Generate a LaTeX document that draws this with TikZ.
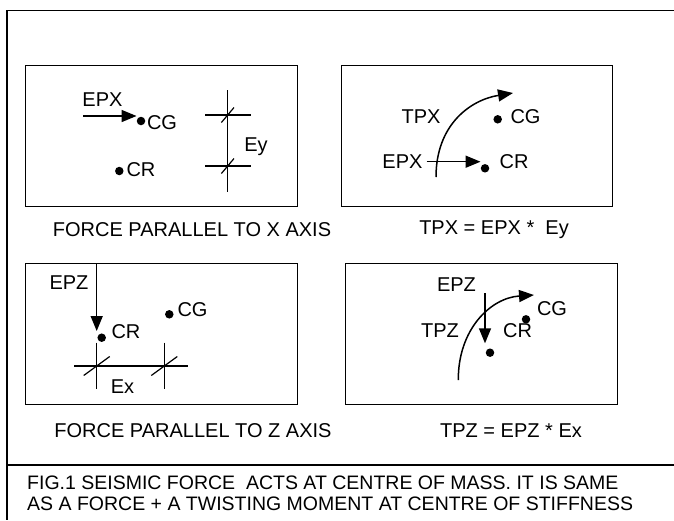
\documentclass[tikz,border=0pt]{standalone}
\usepackage{fontspec}
\setmainfont{Liberation Sans}
\usetikzlibrary{positioning,arrows.meta,calc}

\begin{document}
\begin{tikzpicture}[
    x=1pt, y=-1pt,
    font=\fontsize{20}{21}\selectfont,
    frame/.style={line width=1.5pt},
    panel/.style={
        draw,
        line width=1.3pt,
        inner sep=0pt,
        anchor=north west,
        minimum height=141pt
    },
    dot/.style={circle, fill, inner sep=0pt, minimum size=8.5pt},
    lbl/.style={inner sep=0pt},
    force/.style={-{Triangle[length=15pt,width=12pt]}, line width=1.5pt},
    dim/.style={line width=1.5pt},
    slash/.style={line width=1.2pt}
]
\useasboundingbox (0,0) rectangle (674,520);

% ============================================================
% FRAME
% ============================================================
\draw[frame] (674,10.7) -| (7,520);
\draw[frame] (7,465) -- (674,465);

% ============================================================
% PANELS
% ============================================================
\node[panel, minimum width=272pt] (px)  at ( 25, 65) {};
\node[panel, minimum width=271pt] (tx)  at (341, 65) {};
\node[panel, minimum width=272pt] (pz)  at ( 24.5,263) {};
\node[panel, minimum width=272pt] (tz)  at (345,263) {};

% force parallel to x
\node[dot] (cg1)  at (141,121) {};
\node[lbl] (cg1t) at (162,123) {CG};
\node[dot] (cr1)  at (119.3,171) {};
\node[lbl] (cr1t) at (141,170) {CR};
\node[lbl] (epx1) at (102.5,100) {EPX};
\coordinate (epx1s) at (83,116);
\draw[force] (epx1s) -- (epx1s -| cg1.west);

\coordinate (ey1) at (227.7,115);
\coordinate (ey2) at (227.7,166);
\draw[dim] ($(ey1)+(0,-25)$) -- ($(ey2)+(0,25.7)$);
\draw[dim] ($(ey1)+(-22.7,0)$) -- ($(ey1)+(23,0)$);
\draw[dim] ($(ey2)+(-22.7,0)$) -- ($(ey2)+(23,0)$);
\draw[slash] ($(ey1)+(-6.3,7.5)$) -- ($(ey1)+(6.3,-7.5)$);
\draw[slash] ($(ey2)+(-6.3,7.5)$) -- ($(ey2)+(6.3,-7.5)$);
\node[lbl] (eyt) at (256,147) {Ey};

% twisting moment tpx
\node[lbl] (tpx)  at (421,116.7) {TPX};
\coordinate (tpxs) at (436,177);
\coordinate (tpxe) at (513,93);
\draw[force] (tpxs) .. controls (436,125) and (470,100) .. (tpxe);
\node[dot] (cg2)  at (497.7,119.3) {};
\node[lbl] (cg2t) at (525.5,117) {CG};
\node[lbl] (epx2) at (402.5,161.7) {EPX};
\node[dot] (cr2)  at (485,168.3) {};
\node[lbl] (cr2t) at (514,161.7) {CR};
\coordinate (epx2s) at (426.7,161.7);
\draw[force] (epx2s) -- (epx2s -| cr2.west);

% force parallel to z
\node[lbl] (epz3) at (69,283) {EPZ};
\node[dot] (cr3)  at (101.7,337.7) {};
\node[lbl] (cr3t) at (126,331.7) {CR};
\node[dot] (cg3)  at (169.3,314.3) {};
\node[lbl] (cg3t) at (192.5,309.3) {CG};
\coordinate (epz3s) at (96.7,264);
\draw[force] (epz3s) -- (96.7,331);

\coordinate (ex1) at (96.7,366);
\coordinate (ex2) at (164.3,366);
\draw[dim] ($(ex1)+(0,-23.3)$) -- ($(ex1)+(0,23.3)$);
\draw[dim] ($(ex2)+(0,-23.3)$) -- ($(ex2)+(0,23.3)$);
\draw[dim] ($(ex1)+(-22.7,0)$) -- ($(ex2)+(23.4,0)$);
\draw[slash] ($(ex1)+(-13,9.5)$) -- ($(ex1)+(13,-9.5)$);
\draw[slash] ($(ex2)+(-13,9.5)$) -- ($(ex2)+(13,-9.5)$);
\node[lbl] (ext) at (122.5,386.7) {Ex};

% twisting moment tpz
\node[lbl] (epz4) at (456.5,285) {EPZ};
\node[lbl] (tpz)  at (440,331) {TPZ};
\coordinate (tpzs) at (458.3,380);
\coordinate (tpze) at (534,295);
\draw[force] (tpzs) .. controls (458,330) and (490,298) .. (tpze);
\coordinate (epz4s) at (485,293.3);
\coordinate (epz4e) at (485,343.3);
\draw[force] (epz4s) -- (epz4e);
\node[dot] (cr4)  at (490,352.7) {};
\node[dot] (cg4)  at (526,319.3) {};
\node[lbl] (cg4t) at (552,308.3) {CG};
\node[lbl] (cr4t) at (517.5,331) {CR};

% ============================================================
% CAPTIONS
% ============================================================
\node[lbl] (capx) at (192,230) {FORCE PARALLEL TO X AXIS};
\node[lbl] (eqx)  at (494,230) {TPX = EPX *~~Ey};
\node[lbl] (capz) at (193,431) {FORCE PARALLEL TO Z AXIS};
\node[lbl] (eqz)  at (511,431) {TPZ = EPZ * Ex};
\node[lbl, anchor=west, align=left, font=\fontsize{19.5}{20.5}\selectfont] (fig) at (27,493.5)
    {FIG.1 SEISMIC FORCE~~ACTS AT CENTRE OF MASS. IT IS SAME\\
     AS A FORCE + A TWISTING MOMENT AT CENTRE OF STIFFNESS};

\end{tikzpicture}
\end{document}
